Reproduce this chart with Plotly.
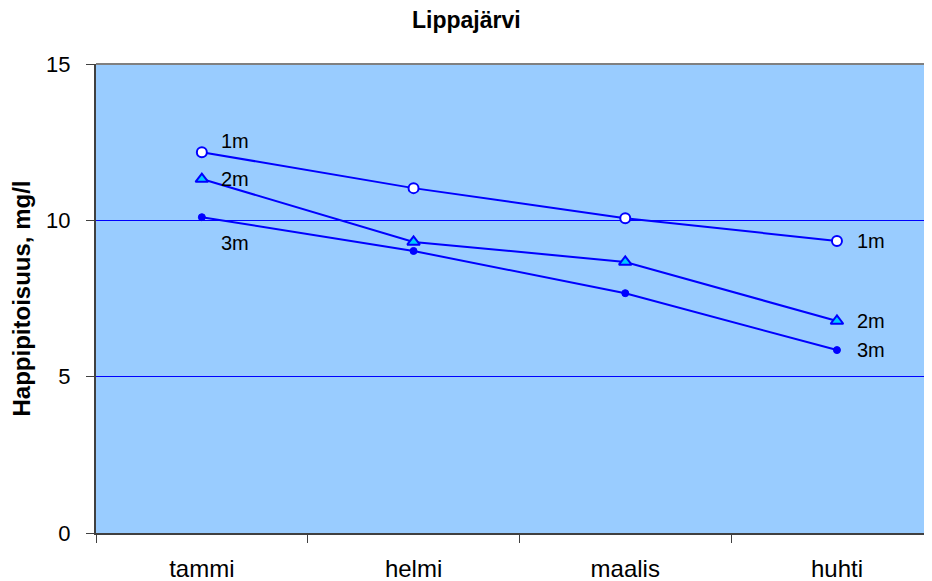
import plotly.graph_objects as go

months = ["tammi", "helmi", "maalis", "huhti"]
depth_1m = [12.18, 11.03, 10.07, 9.34]
depth_2m = [11.32, 9.31, 8.67, 6.78]
depth_3m = [10.10, 9.02, 7.67, 5.85]
series_names = ["1m", "2m", "3m"]

LINE = "#0000FF"
FONT = "Liberation Sans, Arial, sans-serif"

fig = go.Figure()
fig.add_trace(go.Scatter(
    x=months, y=depth_1m, mode="lines+markers", name=series_names[0],
    line=dict(color=LINE, width=2),
    marker=dict(symbol="circle", size=10, color="white", line=dict(color=LINE, width=2)),
    showlegend=False, cliponaxis=False))
fig.add_trace(go.Scatter(
    x=months, y=depth_2m, mode="lines+markers", name=series_names[1],
    line=dict(color=LINE, width=2),
    marker=dict(symbol="triangle-up", size=11, color="#00CCFF", line=dict(color=LINE, width=2)),
    showlegend=False, cliponaxis=False))
fig.add_trace(go.Scatter(
    x=months, y=depth_3m, mode="lines+markers", name=series_names[2],
    line=dict(color=LINE, width=2),
    marker=dict(symbol="circle", size=7, color=LINE, line=dict(color=LINE, width=1)),
    showlegend=False, cliponaxis=False))

# series labels next to first and last points
label_shifts_first = [11, 0, -26]
for name, vals, ys in zip(series_names, [depth_1m, depth_2m, depth_3m], label_shifts_first):
    fig.add_annotation(x=months[0], y=vals[0], text=name, showarrow=False,
                       xanchor="left", yanchor="middle", xshift=17, yshift=ys,
                       font=dict(size=20, family=FONT, color="black"))
    fig.add_annotation(x=months[-1], y=vals[-1], text=name, showarrow=False,
                       xanchor="left", yanchor="middle", xshift=18, yshift=0,
                       font=dict(size=20, family=FONT, color="black"))

fig.update_layout(
    width=924, height=573,
    margin=dict(l=88, r=0, t=56, b=48),
    paper_bgcolor="white",
    plot_bgcolor="#99CCFF",
    font=dict(family=FONT, size=20, color="black"),
    title=dict(text="<b>Lippajärvi</b>", x=0.496, xanchor="center", xref="container",
               y=0.979, yanchor="middle", yref="container",
               font=dict(size=23, family=FONT, color="black")),
    xaxis=dict(
        type="category", range=[-0.5, 3.449], tickson="boundaries",
        ticks="outside", ticklen=8, tickcolor="#404040",
        showline=True, linecolor="#404040", linewidth=2,
        showgrid=False, zeroline=False, ticklabelstandoff=13,
        tickfont=dict(size=24, family=FONT, color="black")),
    yaxis=dict(
        range=[0, 15], tickvals=[0, 5, 10, 15], ticks="outside", ticklen=8,
        tickcolor="#404040", showline=True, linecolor="#404040", linewidth=2,
        showgrid=True, gridcolor="#0000FF", gridwidth=1, zeroline=False,
        ticklabelstandoff=11,
        tickfont=dict(size=22, family=FONT, color="black"),
        title=dict(text="<b>Happipitoisuus, mg/l</b>", standoff=13,
                   font=dict(size=24, family=FONT, color="black"))),
)
# gray top border of the plot area
fig.add_shape(type="line", xref="paper", yref="paper", x0=0, x1=1, y0=1, y1=1,
              line=dict(color="#808080", width=2))

fig.write_html("out.html")
